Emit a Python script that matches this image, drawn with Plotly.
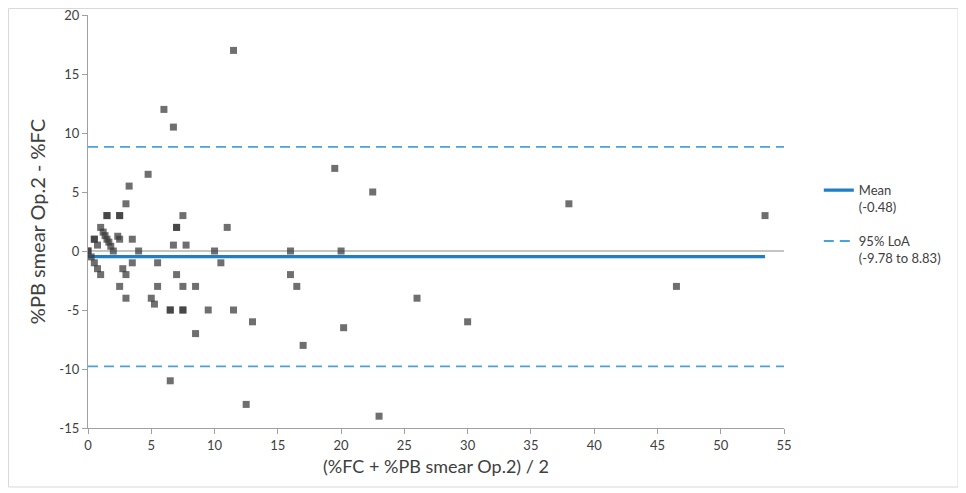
import plotly.graph_objects as go

# ---- data ----
avg_vals = [0, 0, 0.25, 0.5, 0.75, 1, 0.5, 0.5, 0.75, 1, 1.2, 1.35, 1.5, 1.65, 1.8, 2,
            1.5, 1.5, 2.5, 2.5, 2.35, 2.5, 3.5, 4, 3, 3.25, 4.75, 2.75, 3, 3.5, 2.5, 3,
            5.5, 5.5, 5, 5.25, 6.5, 6.5, 7.5, 7.5, 6.5, 6, 6.75, 7.5, 7, 7, 6.75, 7.75,
            7, 7.5, 8.5, 8.5, 9.5, 10, 10.5, 11, 11.5, 11.5, 12.5, 13, 16, 16, 16.5, 17,
            19.5, 20, 20.2, 22.5, 23, 26, 30, 38, 46.5, 53.5]
diff_vals = [0, 0, -0.5, -1, -1.5, -2, 1, 1, 0.5, 2, 1.6, 1.3, 1, 0.75, 0.4, 0,
             3, 3, 3, 3, 1.25, 1, 1, 0, 4, 5.5, 6.5, -1.5, -2, -1, -3, -4,
             -1, -3, -4, -4.5, -5, -5, -5, -5, -11, 12, 10.5, 3, 2, 2, 0.5, 0.5,
             -2, -3, -3, -7, -5, 0, -1, 2, 17, -5, -13, -6, 0, -2, -3, -8,
             7, 0, -6.5, 5, -14, -4, -6, 4, -3, 3]

mean_diff = -0.48
loa_low = -9.78
loa_high = 8.83
mean_x = [0, 53.5]
loa_x = [0, 55]

x_ticks = [0, 5, 10, 15, 20, 25, 30, 35, 40, 45, 50, 55]
y_ticks = [-15, -10, -5, 0, 5, 10, 15, 20]

FONT = "Lato"

fig = go.Figure()

fig.add_trace(go.Scatter(
    x=loa_x, y=[loa_high, loa_high], mode="lines",
    line=dict(color="#4aa3d6", width=1.8, dash="10px,6px"),
    name="95% LoA<br>(-9.78 to 8.83)", legendgroup="loa", legendrank=2,
))
fig.add_trace(go.Scatter(
    x=loa_x, y=[loa_low, loa_low], mode="lines",
    line=dict(color="#4aa3d6", width=1.8, dash="10px,6px"),
    showlegend=False, legendgroup="loa",
))
fig.add_trace(go.Scatter(
    x=mean_x, y=[mean_diff, mean_diff], mode="lines",
    line=dict(color="#1f7fc4", width=3.2),
    name="Mean<br>(-0.48)", legendgroup="mean", legendrank=1,
))
fig.add_trace(go.Scatter(
    x=avg_vals, y=diff_vals, mode="markers",
    marker=dict(symbol="square", size=7, color="rgba(55,55,55,0.72)", line=dict(width=0)),
    showlegend=False,
))

PL, PT, PW, PH = 80, 7, 696, 413
fig.update_layout(
    width=958, height=485,
    margin=dict(l=PL, r=958 - PL - PW, t=PT, b=485 - PT - PH, autoexpand=False),
    paper_bgcolor="white", plot_bgcolor="white",
    font=dict(family=FONT, color="#404040", size=13),
    legend=dict(
        x=1.05, y=0.612, xanchor="left", yanchor="top",
        font=dict(family=FONT, size=13, color="#404040"),
        valign="top", tracegroupgap=14, bgcolor="rgba(0,0,0,0)",
    ),
    xaxis=dict(
        range=[0, 55], tickvals=x_ticks, ticktext=[str(v) for v in x_ticks],
        automargin=False,
        showgrid=False, zeroline=False, showline=True, linecolor="#a0a0a0", linewidth=1.3,
        ticks="outside", ticklen=5, tickcolor="#a0a0a0", ticklabeloverflow="allow",
        tickfont=dict(family=FONT, size=13, color="#404040"),
        title=dict(text="(%FC + %PB smear Op.2) / 2", font=dict(family=FONT, size=18, color="#404040"), standoff=8),
    ),
    yaxis=dict(
        range=[-15, 20], tickvals=y_ticks, ticktext=[str(v) for v in y_ticks],
        automargin=False,
        showgrid=False, zeroline=True, zerolinecolor="#c4c4c4", zerolinewidth=1.6,
        showline=True, linecolor="#a0a0a0", linewidth=1.3,
        ticks="outside", ticklen=5, tickcolor="#a0a0a0", ticklabeloverflow="allow",
        tickfont=dict(family=FONT, size=13, color="#404040"),
        title=dict(text="%PB smear Op.2 - %FC", font=dict(family=FONT, size=20, color="#404040"), standoff=8),
    ),
    shapes=[dict(
        type="rect", xref="paper", yref="paper",
        x0=(0.5 - PL) / PW, x1=(950 - PL) / PW,
        y0=(PT + PH - 479) / PH, y1=(PT + PH - 0.5) / PH,
        line=dict(color="#d9d9d9", width=1), fillcolor="rgba(0,0,0,0)", layer="below",
    )],
)

fig.write_html("out.html")
